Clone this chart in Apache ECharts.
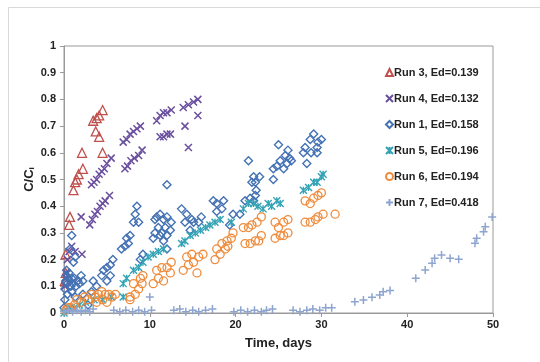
<!DOCTYPE html>
<html>
<head>
<meta charset="utf-8">
<script src="https://cdn.jsdelivr.net/npm/echarts@6/dist/echarts.min.js"></script>
<style>
  html, body { margin: 0; padding: 0; background: #fff; }
  .chart { width: 540px; height: 362px; }
</style>
</head>
<body>
<div class="chart"></div>
<script>
// data: [time (days), C/Ci]
const run3 = [[0.1,0.12],[0.2,0.15],[0.2,0.22],[0.6,0.33],[0.7,0.36],[1.1,0.46],[1.3,0.49],[1.5,0.5],
  [1.7,0.52],[2.2,0.54],[2.1,0.6],[3.4,0.72],[3.8,0.73],[4.1,0.74],[4.5,0.76],[3.7,0.68],[4.1,0.66],[4.5,0.6]]

const run4 = [[0.1,0.1],[0.2,0.13],[0.3,0.15],[0.4,0.2],[0.6,0.23],[0.9,0.25],[1.3,0.23],[2.1,0.22],
  [2.0,0.36],[3.0,0.33],[3.3,0.35],[3.6,0.37],[3.9,0.38],[4.2,0.4],[4.5,0.41],[4.8,0.42],[5.3,0.44],
  [3.2,0.48],[3.5,0.49],[3.8,0.5],[4.1,0.52],[4.4,0.53],[4.7,0.54],[5.0,0.56],[5.5,0.58],
  [7.1,0.54],[7.4,0.55],[7.8,0.57],[8.2,0.58],[8.7,0.59],[9.1,0.61],
  [6.9,0.64],[7.3,0.65],[7.7,0.67],[8.1,0.68],[8.5,0.69],[8.9,0.7],
  [10.8,0.72],[11.2,0.74],[11.6,0.75],[12.0,0.75],[12.5,0.76],[11.2,0.66],[11.6,0.66],[12.0,0.67],[12.4,0.67],
  [13.9,0.77],[14.5,0.78],[15.1,0.79],[15.6,0.8],[15.6,0.74],[14.1,0.7],[14.5,0.62]]

const run1 = [[0,0.02],[0.1,0.05],[0.1,0.09],[0.2,0.12],[0.3,0.14],[0.4,0.11],[0.5,0.13],[0.6,0.15],
  [0.7,0.12],[0.8,0.1],[0.9,0.13],[1.0,0.11],[1.2,0.13],[1.4,0.1],[1.6,0.12],[1.8,0.11],[2.0,0.14],[2.2,0.12],
  [0.4,0.07],[0.9,0.08],[1.3,0.06],[2.2,0.07],[2.8,0.03],[0.9,0.29],[0.7,0.24],[1.3,0.21],[1.1,0.19],[0.3,0.16],
  [3.4,0.12],[3.8,0.1],[3.2,0.08],[4.4,0.14],[4.6,0.16],[5.0,0.17],[5.4,0.18],[5.7,0.2],[5.0,0.12],[5.4,0.14],
  [6.7,0.24],[7.1,0.25],[7.5,0.26],[7.7,0.29],[7.3,0.28],[8.1,0.34],[8.7,0.34],[8.3,0.37],[8.5,0.4],
  [8.9,0.2],[9.2,0.22],
  [10.4,0.28],[10.6,0.3],[11.2,0.29],[11.6,0.27],[12.0,0.24],[12.4,0.31],[11.4,0.3],[12.0,0.29],
  [10.6,0.35],[11.0,0.32],[11.2,0.37],[11.6,0.35],[10.8,0.36],[12.0,0.36],[12.5,0.34],[11.8,0.32],[12.0,0.48],
  [13.7,0.39],[14.1,0.34],[14.3,0.37],[14.7,0.31],[14.9,0.35],[15.1,0.34],[15.7,0.34],[16.0,0.36],
  [17.4,0.42],[17.8,0.41],[18.6,0.42],[18.4,0.39],[17.8,0.38],[19.3,0.33],[19.7,0.37],
  [20.5,0.37],[21.1,0.42],[21.7,0.43],[22.1,0.42],[22.3,0.44],[22.4,0.46],[21.9,0.49],[22.1,0.51],[22.8,0.51],
  [22.3,0.49],[21.5,0.57],[24.4,0.5],
  [24.4,0.54],[24.8,0.55],[25.2,0.57],[25.6,0.54],[25.0,0.63],[26.1,0.61],[25.8,0.59],[26.3,0.58],[26.0,0.56],[26.5,0.57],
  [27.9,0.6],[28.1,0.62],[28.3,0.56],[28.7,0.65],[28.8,0.6],[29.1,0.67],[29.5,0.62],[29.5,0.6],[29.6,0.64],[30.0,0.65]]

const run5 = [[0,0.0],[0.3,0.01],[0.7,0.02],[1.2,0.02],[1.8,0.03],[2.5,0.04],[3.5,0.05],[4.5,0.05],[5.5,0.06],
  [6.9,0.06],[6.9,0.11],[7.3,0.13],[8.1,0.16],[8.7,0.17],[9.2,0.19],[9.8,0.21],[10.4,0.22],[11.0,0.23],[11.6,0.24],
  [13.7,0.26],[14.1,0.27],[14.7,0.29],[15.3,0.3],[15.9,0.31],[16.5,0.32],[17.0,0.33],[17.6,0.34],[18.2,0.35],
  [19.5,0.34],[20.9,0.39],[21.5,0.41],[22.1,0.41],[22.6,0.4],[23.2,0.39],[23.8,0.41],[24.2,0.4],[24.8,0.42],[25.2,0.41],
  [27.9,0.46],[28.5,0.47],[29.1,0.49],[29.5,0.49],[30.0,0.51],[30.2,0.52]]

const run6 = [[0.2,0.01],[0.5,0.02],[0.8,0.02],[1.2,0.03],[1.5,0.05],[2.0,0.04],[2.4,0.06],[2.8,0.05],[3.2,0.07],
  [3.6,0.06],[4.0,0.07],[4.4,0.08],[4.8,0.07],[5.2,0.07],[5.6,0.06],[6.0,0.07],[3.8,0.04],[4.5,0.05],[5.0,0.04],
  [7.7,0.06],[8.3,0.07],[8.7,0.09],[9.1,0.11],[8.1,0.11],[8.9,0.13],[9.2,0.14],[7.7,0.05],
  [10.4,0.11],[11.0,0.13],[11.6,0.12],[10.8,0.16],[11.4,0.17],[12.0,0.17],[12.5,0.19],[12.4,0.15],
  [13.9,0.16],[14.5,0.18],[15.1,0.19],[15.7,0.21],[16.2,0.22],[14.3,0.21],[14.9,0.22],[15.5,0.15],
  [17.6,0.2],[18.2,0.22],[18.8,0.24],[19.1,0.25],[17.8,0.24],[18.4,0.26],[19.0,0.27],[19.5,0.28],[19.7,0.3],
  [20.9,0.32],[21.5,0.32],[21.9,0.33],[22.5,0.34],[23.0,0.36],[21.1,0.26],[21.7,0.26],[22.3,0.27],[22.7,0.27],[23.0,0.29],
  [24.6,0.34],[25.0,0.32],[25.6,0.34],[26.1,0.35],[24.6,0.28],[25.2,0.29],[25.6,0.29],[26.1,0.3],
  [28.1,0.42],[28.7,0.41],[29.1,0.43],[29.6,0.44],[30.0,0.45],[28.1,0.34],[28.7,0.34],[29.3,0.35],[29.6,0.36],[30.2,0.37],[31.6,0.37]]

const run7 = [[0,0.005],[0.5,0.01],[1.0,0.005],[1.5,0.01],[2.0,0.005],[2.5,0.01],[3.0,0.005],[3.4,0.015],
  [5.8,0.01],[6.5,0.005],[7.2,0.01],[8.0,0.005],[8.7,0.01],[9.4,0.005],[10.2,0.01],[10.0,0.06],
  [12.8,0.01],[13.5,0.015],[14.2,0.005],[15.0,0.01],[15.7,0.005],[16.5,0.01],[17.3,0.015],
  [19.8,0.005],[20.6,0.01],[21.4,0.005],[22.2,0.01],[23.0,0.005],[23.6,0.01],[24.3,0.015],
  [26.7,0.01],[27.5,0.005],[28.3,0.01],[29.0,0.015],[29.8,0.01],[30.5,0.02],[31.2,0.02],
  [33.9,0.042],[34.9,0.049],[35.9,0.059],[36.8,0.067],[37.2,0.08],[38.0,0.084],
  [41.0,0.13],[42.1,0.161],[42.9,0.186],[43.2,0.205],[44.0,0.217],[45.0,0.205],[46.0,0.201],
  [47.9,0.261],[48.1,0.28],[48.9,0.304],[49.1,0.323],[49.9,0.36]]

const seriesNames = ['Run 3, Ed=0.139', 'Run 4, Ed=0.132', 'Run 1, Ed=0.158', 'Run 5, Ed=0.196', 'Run 6, Ed=0.194', 'Run 7, Ed=0.418']
const yTicks = [0, 0.1, 0.2, 0.3, 0.4, 0.5, 0.6, 0.7, 0.8, 0.9, 1]
const xTicks = [0, 10, 20, 30, 40, 50]

const crossPath = 'path://M0,0L10,10M10,0L0,10'
const starPath = 'path://M0,0L10,10M10,0L0,10M5,0L5,10'
const plusPath = 'path://M5,0L5,10M0,5L10,5'

function makeSeries (name, data, symbol, size, color, width) {
  return {
    name: name,
    type: 'scatter',
    data: data,
    symbol: symbol,
    symbolSize: size,
    itemStyle: { color: 'rgba(0,0,0,0)', borderColor: color, borderWidth: width, opacity: 1 }
  }
}

const chart = echarts.init(document.querySelector('.chart'))

const option = {
  animation: false,
  textStyle: { fontFamily: 'Liberation Sans, Arial, sans-serif' },
  graphic: [{
    type: 'rect',
    shape: { x: 8.5, y: 7.5, width: 560, height: 400 },
    style: { fill: 'none', stroke: '#d9d9d9', lineWidth: 1 },
    silent: true
  }],
  grid: {
    left: 64, right: 47, top: 46, bottom: 49,
    show: true, borderColor: '#9a9a9a', borderWidth: 1
  },
  legend: {
    orient: 'vertical',
    left: 380, top: 62,
    itemWidth: 7, itemHeight: 7, itemGap: 15,
    textStyle: { fontWeight: 'bold', fontSize: 11, color: '#222', padding: [0, 0, 0, -4] },
    data: seriesNames
  },
  xAxis: {
    type: 'value',
    min: xTicks[0], max: xTicks[xTicks.length - 1], interval: 10,
    name: 'Time, days', nameLocation: 'middle', nameGap: 24,
    nameTextStyle: { fontWeight: 'bold', fontSize: 13, color: '#222' },
    axisLine: { lineStyle: { color: '#9a9a9a' } },
    axisTick: { show: true, inside: false, length: 4, lineStyle: { color: '#9a9a9a' } },
    axisLabel: { fontWeight: 'bold', fontSize: 11, color: '#222', margin: 6 },
    splitLine: { show: false }
  },
  yAxis: {
    type: 'value',
    min: yTicks[0], max: yTicks[yTicks.length - 1], interval: 0.1,
    name: '{a|C/C}{s|i}', nameLocation: 'middle', nameGap: 28, nameMoveOverlap: false,
    nameTextStyle: {
      rich: {
        a: { fontWeight: 'bold', fontSize: 13, color: '#222' },
        s: { fontWeight: 'bold', fontSize: 8, color: '#222', padding: [6, 0, 0, 0] }
      }
    },
    axisLine: { show: true, lineStyle: { color: '#9a9a9a' } },
    axisTick: { show: true, length: 4, lineStyle: { color: '#9a9a9a' } },
    axisLabel: { fontWeight: 'bold', fontSize: 11, color: '#222', margin: 8 },
    splitLine: { show: false }
  },
  series: [
    makeSeries(seriesNames[0], run3, 'triangle', 9, '#c0504d', 1.3),
    makeSeries(seriesNames[1], run4, crossPath, 7, '#6a4f9e', 1.5),
    makeSeries(seriesNames[2], run1, 'diamond', 8, '#4472b4', 1.4),
    makeSeries(seriesNames[3], run5, starPath, 7, '#33a3b5', 1.4),
    makeSeries(seriesNames[4], run6, 'circle', 8, '#ef8b3c', 1.3),
    makeSeries(seriesNames[5], run7, plusPath, 8, '#8ea5cf', 1.5)
  ]
}

chart.setOption(option)
</script>
</body>
</html>
